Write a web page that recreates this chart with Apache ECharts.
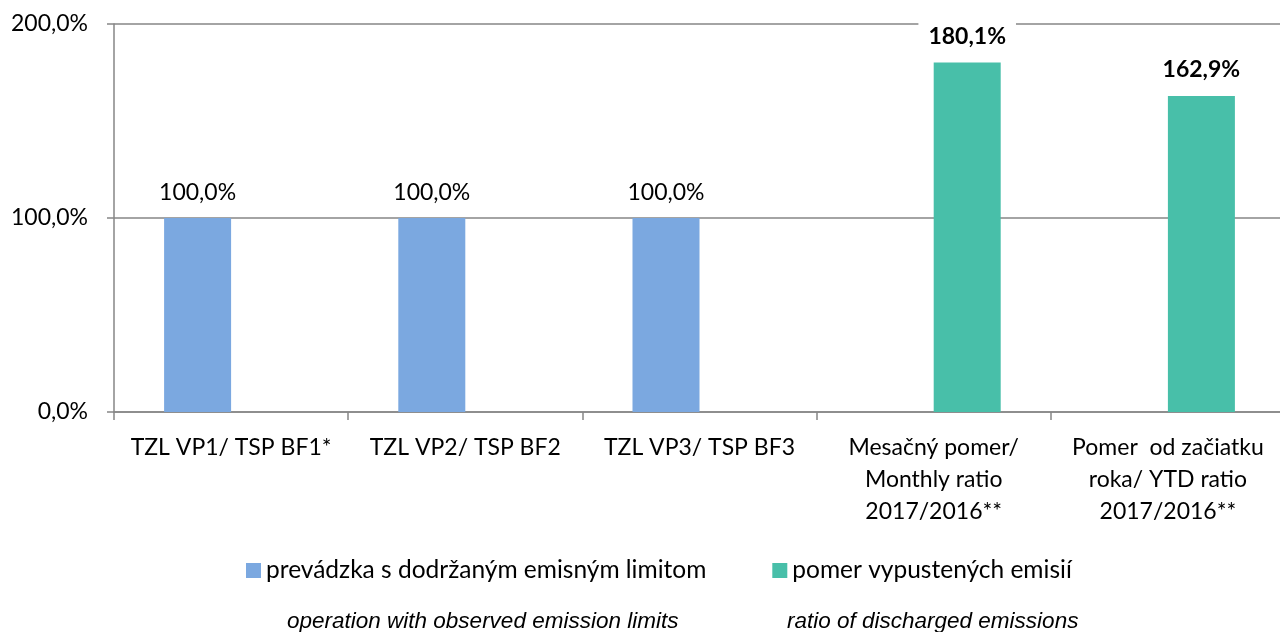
<!DOCTYPE html>
<html>
<head>
<meta charset="utf-8">
<script src="https://cdn.jsdelivr.net/npm/echarts@6/dist/echarts.min.js"></script>
<style>
html,body{margin:0;padding:0;background:#fff;}
#chart{width:1280px;height:632px;}
</style>
</head>
<body>
<div id="chart"></div>
<script>
var categories = ['TZL VP1/ TSP BF1*', 'TZL VP2/ TSP BF2', 'TZL VP3/ TSP BF3', 'Mesačný pomer/\nMonthly ratio\n2017/2016**', 'Pomer  od začiatku\nroka/ YTD ratio\n2017/2016**'];
var seriesNames = ['prevádzka s dodržaným emisným limitom', 'pomer vypustených emisií'];
var limitValues = [100.0, 100.0, 100.0, null, null];
var ratioValues = [null, null, null, 180.1, 162.9];
var subtitleTexts = ['operation with observed emission limits', 'ratio of discharged emissions'];

var FONT = 'Lato';
function fmt(v){ return v.toFixed(1).replace('.', ',') + '%'; }

var chart = echarts.init(document.getElementById('chart'), null, {renderer:'canvas'});
chart.setOption({
  animation:false,
  backgroundColor:'#ffffff',
  grid:{left:114, top:24, width:1171, height:388, containLabel:false, outerBoundsMode:'none'},
  legend:{
    left:241, top:553,
    itemWidth:15, itemHeight:15, itemGap:66,
    icon:'rect',
    textStyle:{fontFamily:FONT, fontSize:24.5, color:'#000', padding:[0,0,0,0]},
    data:seriesNames
  },
  xAxis:{
    type:'category',
    data:categories,
    axisLine:{lineStyle:{color:'#868686', width:1.5}},
    axisTick:{show:true, length:8, lineStyle:{color:'#868686', width:1.5}},
    axisLabel:{fontFamily:FONT, fontSize:23, color:'#000', margin:20, lineHeight:32, interval:0}
  },
  yAxis:{
    type:'value', min:0, max:200, interval:100,
    axisLine:{show:true, lineStyle:{color:'#868686', width:1.5}},
    axisTick:{show:true, length:7, lineStyle:{color:'#868686', width:1.5}},
    splitLine:{show:true, lineStyle:{color:'#868686', width:1.5}},
    axisLabel:{fontFamily:FONT, fontSize:23, color:'#000', margin:26, formatter:function(v){return fmt(v);}}
  },
  series:[
    {
      name:seriesNames[0], type:'bar', data:limitValues, barWidth:67, barGap:'0%',
      itemStyle:{color:'#7BA8E0'},
      label:{show:true, position:'top', distance:14, fontFamily:FONT, fontSize:23, color:'#000',
        formatter:function(p){return fmt(p.value);}}
    },
    {
      name:seriesNames[1], type:'bar', data:ratioValues, barWidth:67, barGap:'0%',
      itemStyle:{color:'#48BFA9'},
      label:{show:true, position:'top', distance:13, fontFamily:FONT, fontSize:23, fontWeight:'bold', color:'#000',
        backgroundColor:'#ffffff', padding:[2,10,2,10],
        formatter:function(p){return fmt(p.value);}}
    }
  ],
  graphic:[
    {type:'text', left:287, top:610, style:{text:subtitleTexts[0], font:'italic 22.5px "Liberation Sans"', fill:'#000'}},
    {type:'text', left:787, top:610, style:{text:subtitleTexts[1], font:'italic 22.5px "Liberation Sans"', fill:'#000'}}
  ]
});
</script>
</body>
</html>
